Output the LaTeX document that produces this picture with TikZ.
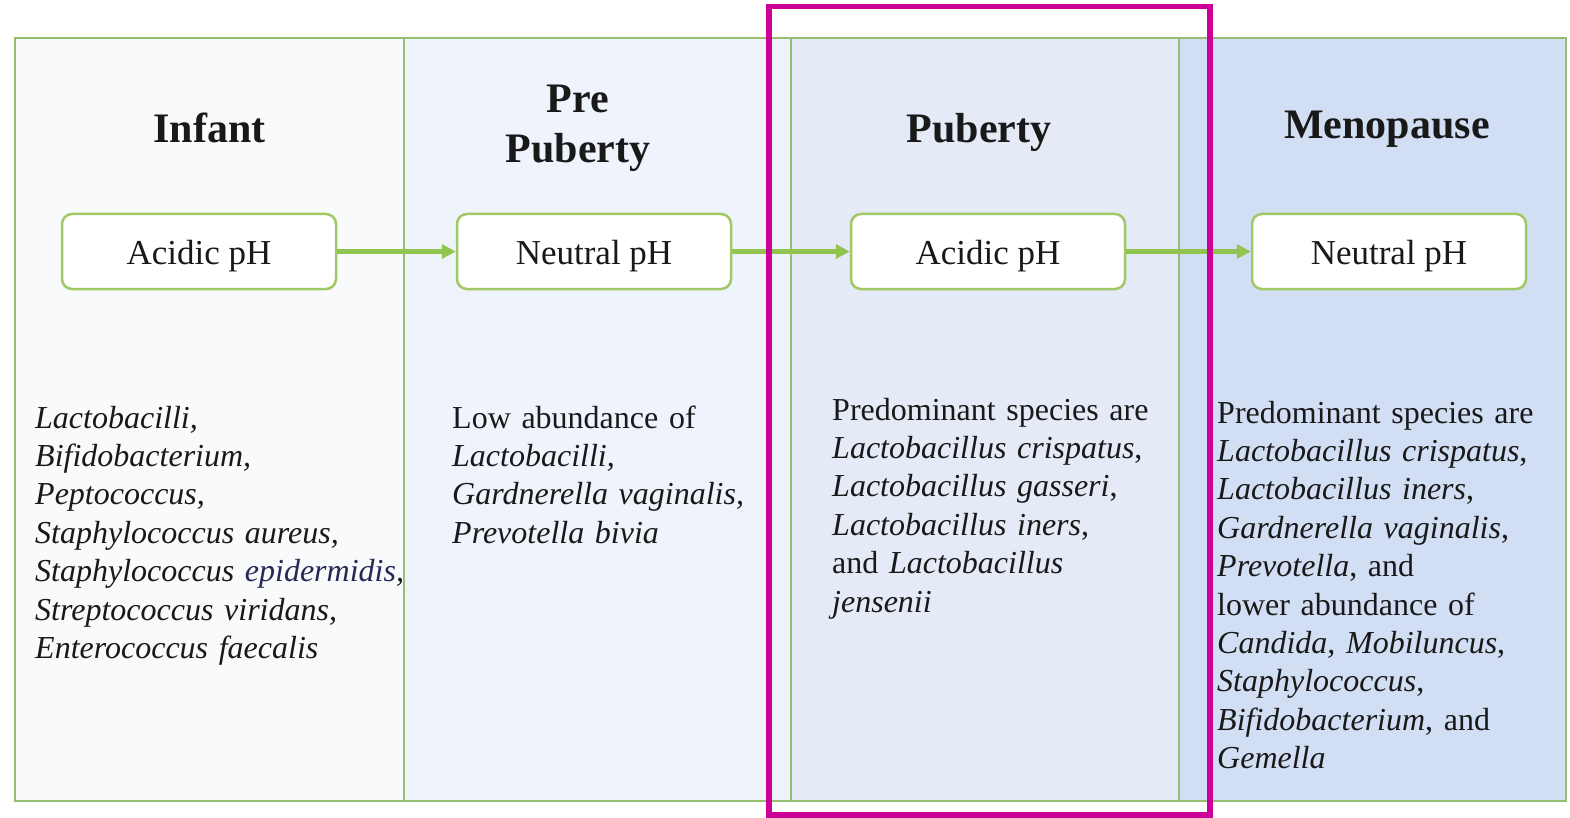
\documentclass[tikz,border=0pt]{standalone}
\usepackage{fontspec}
\setmainfont{Liberation Serif}
\usetikzlibrary{arrows.meta}
\definecolor{framegreen}{RGB}{150,190,112}
\definecolor{boxgreen}{RGB}{160,200,100}
\definecolor{arrgreen}{RGB}{146,196,80}
\definecolor{hlmagenta}{RGB}{204,0,153}
\definecolor{colA}{RGB}{249,250,252}
\definecolor{colB}{RGB}{239,244,252}
\definecolor{colC}{RGB}{228,234,246}
\definecolor{colD}{RGB}{210,222,243}
\definecolor{txt}{RGB}{25,25,25}
\definecolor{navytxt}{RGB}{40,40,85}
\tikzset{
  stagetitle/.style={font=\fontsize{42}{50}\selectfont\bfseries, text=txt, inner sep=0pt, anchor=base, text width=320pt, align=center},
  phbox/.style={draw=boxgreen, line width=2.5pt, fill=white, rounded corners=10pt, minimum width=274pt, minimum height=75pt, inner sep=0pt, text height=31pt, text depth=4pt, font=\fontsize{35}{40}\selectfont, text=txt},
  species/.style={font=\fontsize{32}{38.4}\selectfont, text=txt, inner sep=0pt, anchor=base west, text width=370pt, align=left},
  flowarrow/.style={draw=arrgreen, line width=5pt, -{Triangle[length=14pt,width=14pt]}},
  colline/.style={draw=framegreen, line width=2.2pt}
}
\begin{document}
\begin{tikzpicture}[x=1pt,y=-1pt]
\useasboundingbox (0,0) rectangle (1570,818);
\fill[white] (0,0) rectangle (1570,818);
% columns
\fill[colA] (15,38) rectangle (404,801);
\fill[colB] (404,38) rectangle (791,801);
\fill[colC] (791,38) rectangle (1179,801);
\fill[colD] (1179,38) rectangle (1566,801);
\draw[colline] (15,38) rectangle (1566,801);
\draw[colline] (404,38) -- (404,801);
\draw[colline] (791,38) -- (791,801);
\draw[colline] (1179,38) -- (1179,801);
% titles
\node[stagetitle] (t1) at (209.5,143) {Infant};
\node[stagetitle] (t2) at (578,113) {Pre\\Puberty};
\node[stagetitle] (t3) at (979,143) {Puberty};
\node[stagetitle] (t4) at (1387,139) {Menopause};
% pH boxes
\node[phbox] (p1) at (199,251.5) {Acidic pH};
\node[phbox] (p2) at (594,251.5) {Neutral pH};
\node[phbox] (p3) at (988,251.5) {Acidic pH};
\node[phbox] (p4) at (1389,251.5) {Neutral pH};
\draw[flowarrow] (p1.east) -- (p2.west);
\draw[flowarrow] (p2.east) -- (p3.west);
\draw[flowarrow] (p3.east) -- (p4.west);
% species
\node[species] (s1) at (35,428) {\textit{Lactobacilli,}\\\textit{Bifidobacterium,}\\\textit{Peptococcus,}\\\textit{Staphylococcus aureus,}\\\textit{Staphylococcus \textcolor{navytxt}{epidermidis},}\\\textit{Streptococcus viridans,}\\\textit{Enterococcus faecalis}};
\node[species] (s2) at (452,428) {Low abundance of\\\textit{Lactobacilli,}\\\textit{Gardnerella vaginalis,}\\\textit{Prevotella bivia}};
\node[species] (s3) at (832,420) {Predominant species are\\\textit{Lactobacillus crispatus},\\\textit{Lactobacillus gasseri},\\\textit{Lactobacillus iners},\\and \textit{Lactobacillus}\\\textit{jensenii}};
\node[species, text width=345pt] (s4) at (1217,423) {Predominant species are\\\textit{Lactobacillus crispatus},\\\textit{Lactobacillus iners},\\\textit{Gardnerella vaginalis},\\\textit{Prevotella}, and\\lower abundance of\\\textit{Candida, Mobiluncus},\\\textit{Staphylococcus},\\\textit{Bifidobacterium}, and\\\textit{Gemella}};
% highlight
\draw[hlmagenta, line width=5.5pt] (769,6.5) rectangle (1210,815);
\end{tikzpicture}
\end{document}
